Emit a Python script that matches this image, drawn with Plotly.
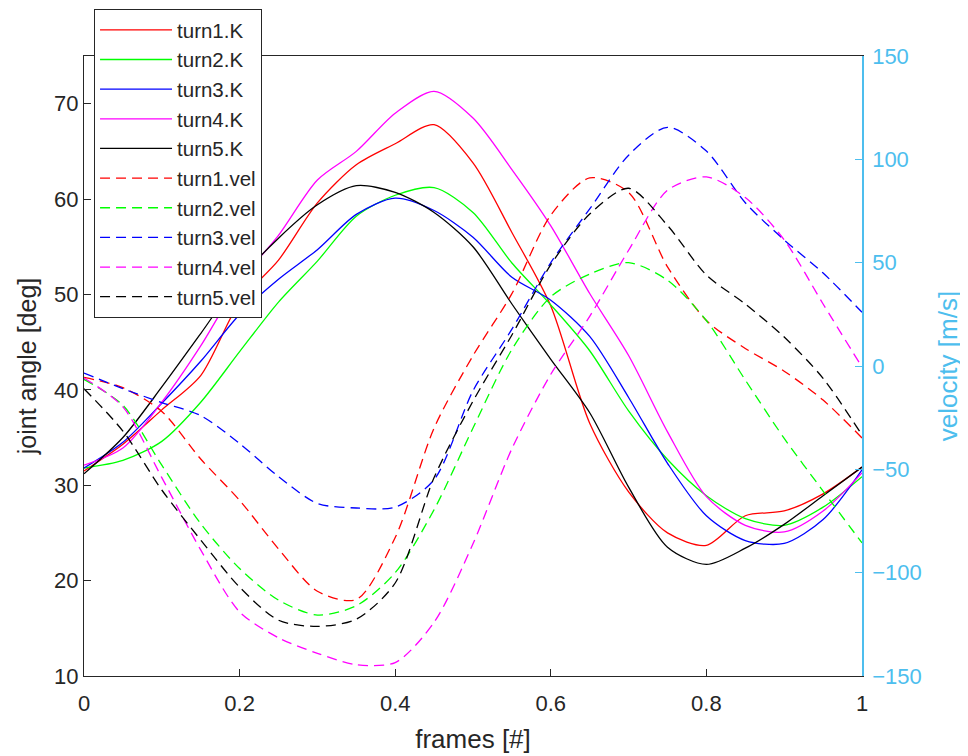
import plotly.graph_objects as go

frames = [0.00, 0.05, 0.10, 0.15, 0.20, 0.25, 0.30, 0.35, 0.40, 0.45, 0.50,
          0.55, 0.60, 0.65, 0.70, 0.75, 0.80, 0.85, 0.90, 0.95, 1.00]

turn1_K = [31.5, 34.3, 37.9, 41.5, 49.2, 53.6, 59.6, 63.6, 65.8, 67.8, 63.8,
           56.5, 48.8, 36.5, 29.3, 25.0, 23.7, 26.8, 27.3, 29.1, 31.9]
turn2_K = [31.8, 32.6, 34.6, 38.7, 44.0, 49.2, 53.5, 58.2, 60.4, 61.2, 58.6,
           53.3, 48.9, 44.1, 37.8, 32.7, 28.9, 26.5, 25.8, 27.7, 30.9]
turn3_K = [31.8, 34.5, 38.6, 43.0, 47.9, 51.6, 54.7, 58.4, 60.1, 58.8, 56.0,
           51.8, 49.4, 45.6, 39.2, 32.3, 26.8, 24.2, 23.9, 26.4, 31.6]
turn4_K = [32.1, 33.9, 38.7, 44.6, 51.3, 56.2, 62.0, 65.0, 69.0, 71.3, 68.5,
           63.1, 57.2, 50.1, 43.6, 35.6, 28.8, 25.8, 25.1, 27.3, 31.3]
turn5_K = [31.2, 35.0, 40.3, 45.9, 51.6, 55.9, 59.4, 61.4, 60.7, 58.6, 55.0,
           49.0, 43.2, 37.6, 29.8, 23.5, 21.7, 23.4, 25.9, 28.9, 31.9]

turn1_vel = [-5.5, -10.5, -22.0, -45.0, -65.0, -88.5, -109.0, -113.0, -83.0, -30.0, 5.0,
             35.0, 73.0, 91.0, 84.0, 48.0, 22.0, 8.5, -2.5, -16.5, -34.8]
turn2_vel = [-6.5, -19.0, -48.0, -76.3, -98.0, -113.3, -120.5, -116.0, -100.0, -69.5, -30.0,
             8.0, 33.5, 44.5, 50.0, 41.5, 22.0, -6.8, -35.0, -60.5, -85.6]
turn3_vel = [-3.4, -11.0, -17.7, -24.0, -37.5, -53.5, -66.5, -68.7, -68.3, -55.0, -12.0,
             17.8, 50.0, 76.0, 102.0, 115.5, 104.0, 79.0, 61.0, 45.0, 26.0]
turn4_vel = [-5.8, -19.8, -54.0, -89.0, -119.0, -131.5, -139.0, -144.5, -143.5, -124.0, -86.0,
             -40.0, -4.0, 24.0, 56.0, 85.0, 91.5, 81.5, 61.0, 30.0, -0.5]
turn5_vel = [-11.0, -31.5, -60.0, -84.2, -107.0, -123.0, -126.0, -122.5, -105.0, -54.0, -17.0,
             15.0, 49.0, 73.5, 86.0, 68.0, 44.0, 30.0, 14.0, -6.0, -33.4]

angle_series = [("turn1.K", turn1_K), ("turn2.K", turn2_K), ("turn3.K", turn3_K),
                ("turn4.K", turn4_K), ("turn5.K", turn5_K)]
vel_series = [("turn1.vel", turn1_vel), ("turn2.vel", turn2_vel), ("turn3.vel", turn3_vel),
              ("turn4.vel", turn4_vel), ("turn5.vel", turn5_vel)]
colors = ["#FF0000", "#00FF00", "#0000FF", "#FF00FF", "#000000"]

AX = "#262626"
VBLUE = "#4DBEEE"
FONT = "Liberation Sans, Arial, sans-serif"

fig = go.Figure()
for (name, vals), c in zip(angle_series, colors):
    fig.add_trace(go.Scatter(x=frames, y=vals, name=name, mode="lines",
                             line=dict(color=c, width=1.3, shape="spline", smoothing=0.8),
                             legendgroup=name, yaxis="y"))
for (name, vals), c in zip(vel_series, colors):
    fig.add_trace(go.Scatter(x=frames, y=vals, name=name, mode="lines",
                             line=dict(color=c, width=1.3, dash="10px,6px", shape="spline", smoothing=0.8),
                             legendgroup=name, yaxis="y2"))

fig.update_layout(
    width=960, height=748,
    margin=dict(l=76, r=106, t=48, b=80, autoexpand=False),
    plot_bgcolor="white", paper_bgcolor="white",
    font=dict(family=FONT, size=22, color=AX),
    showlegend=True,
    legend=dict(x=0.0129, y=1.0758, xanchor="left", yanchor="top",
                bgcolor="white", bordercolor=AX, borderwidth=1,
                font=dict(size=20.5, color=AX), tracegroupgap=0,
                traceorder="grouped", itemwidth=72),
    xaxis=dict(range=[0, 1], tickvals=[0, 0.2, 0.4, 0.6, 0.8, 1],
               ticktext=["0", "0.2", "0.4", "0.6", "0.8", "1"],
               ticks="inside", ticklen=7, tickcolor=AX, showline=True, linecolor=AX,
               linewidth=1, mirror=True, showgrid=False, zeroline=False,
               tickfont=dict(size=22, color=AX), ticklabelstandoff=8,
               title=dict(text="frames [#]", font=dict(size=26, color=AX), standoff=14)),
    yaxis=dict(range=[10, 75], tickvals=[10, 20, 30, 40, 50, 60, 70],
               ticks="inside", ticklen=7, tickcolor=AX, showline=True, linecolor=AX,
               linewidth=1, showgrid=False, zeroline=False,
               tickfont=dict(size=22, color=AX),
               title=dict(text="joint angle [deg]", font=dict(size=25, color=AX), standoff=10)),
    yaxis2=dict(range=[-150, 150], tickvals=[-150, -100, -50, 0, 50, 100, 150],
                overlaying="y", side="right", anchor="x",
                ticks="inside", ticklen=7, tickcolor=VBLUE, showline=True, linecolor=VBLUE,
                linewidth=1.5, showgrid=False, zeroline=False,
                tickfont=dict(color=VBLUE, size=22), ticklabelstandoff=4,
                title=dict(text="velocity [m/s]", font=dict(size=26, color=VBLUE), standoff=18)),
)

fig.write_html("out.html")
